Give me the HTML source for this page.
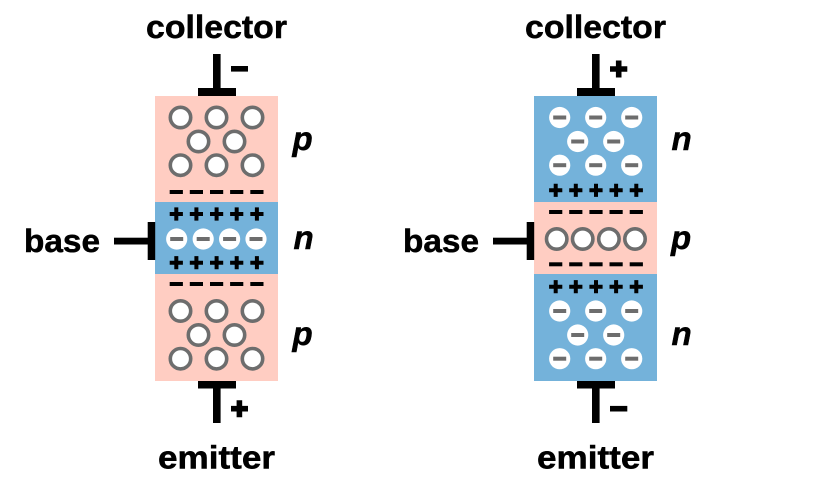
<!DOCTYPE html>
<html>
<head>
<meta charset="utf-8">
<style>
html,body{margin:0;padding:0;background:#fff;width:820px;height:480px;overflow:hidden}
svg{display:block}
text{font-family:"Liberation Sans",sans-serif;font-weight:700;fill:#000;stroke:#000}
.l{font-size:32px;stroke-width:.5px}
.i{font-size:33px;font-style:italic;stroke-width:.5px}
</style>
</head>
<body>
<svg width="820" height="480" viewBox="0 0 820 480" xmlns="http://www.w3.org/2000/svg">
<defs>
<circle id="h" r="10.2" fill="#fff" stroke="#6d6d6d" stroke-width="3.6"/>
<g id="e"><circle r="10.6" fill="#fff"/><rect x="-6.5" y="-2" width="13" height="4" fill="#6d6d6d"/></g>
<path id="a" d="M-6.600-2H-2V-6.600H2V-2H6.600V2H2V6.600H-2V2H-6.600Z"/>
<rect id="m" x="-6.6" y="-2" width="13.2" height="4"/>
<g id="ar"><use href="#a" x="0"/><use href="#a" x="20.1"/><use href="#a" x="40.3"/><use href="#a" x="60.4"/><use href="#a" x="80.6"/></g>
<g id="mr"><use href="#m" x="0"/><use href="#m" x="20.1"/><use href="#m" x="40.3"/><use href="#m" x="60.4"/><use href="#m" x="80.6"/></g>
<g id="hc"><use href="#h" x="0" y="0"/><use href="#h" x="36" y="0"/><use href="#h" x="72" y="0"/><use href="#h" x="18" y="24"/><use href="#h" x="54" y="24"/><use href="#h" x="0" y="47.7"/><use href="#h" x="36" y="47.7"/><use href="#h" x="72" y="47.7"/></g>
<g id="ec"><use href="#e" x="0" y="0"/><use href="#e" x="36" y="0"/><use href="#e" x="72" y="0"/><use href="#e" x="18" y="24"/><use href="#e" x="54" y="24"/><use href="#e" x="0" y="47.7"/><use href="#e" x="36" y="47.7"/><use href="#e" x="72" y="47.7"/></g>
<g id="t">
<rect x="213" y="54" width="7.6" height="36"/><rect x="198" y="88" width="38" height="8"/>
<rect x="213" y="381" width="7.6" height="42"/><rect x="198" y="381" width="38" height="7.5"/>
<rect x="114" y="237.7" width="36" height="6.8"/><rect x="147.7" y="222" width="7.5" height="38"/>
</g>
</defs>

<!-- left transistor -->
<rect x="155" y="96" width="123" height="285" fill="#ffcdc2"/>
<rect x="155" y="202" width="123" height="72" fill="#74b2da"/>
<use href="#t"/>
<rect x="231" y="66" width="17" height="5.600"/>
<path d="M236.600 400.200h5.600v5.700H248v5.600h-5.800v5.700h-5.600v-5.700H231v-5.600h5.600Z"/>
<use href="#hc" x="180.5" y="117.5"/>
<use href="#hc" x="180.5" y="311"/>
<use href="#mr" x="176.3" y="192"/>
<use href="#ar" x="176.3" y="214"/>
<use href="#e" x="176.7" y="239"/><use href="#e" x="203.2" y="239"/><use href="#e" x="229.6" y="239"/><use href="#e" x="256" y="239"/>
<use href="#ar" x="176.3" y="262.7"/>
<use href="#mr" x="176.3" y="284"/>
<text class="l" x="146" y="38" textLength="141" lengthAdjust="spacingAndGlyphs">collector</text>
<text class="l" x="158" y="468.500" textLength="117" lengthAdjust="spacingAndGlyphs">emitter</text>
<text class="l" x="24" y="252" textLength="76" lengthAdjust="spacingAndGlyphs">base</text>
<text class="i" x="292.500" y="150">p</text>
<text class="i" x="293.500" y="249">n</text>
<text class="i" x="292.500" y="345">p</text>

<!-- right transistor -->
<rect x="534" y="96" width="123" height="285" fill="#74b2da"/>
<rect x="534" y="202" width="123" height="72" fill="#ffcdc2"/>
<use href="#t" x="379"/>
<path d="M615.900 60.500h5.600v5.700h5.800v5.600h-5.800v5.700h-5.600v-5.700H610v-5.600h5.900Z"/>
<rect x="610" y="405.900" width="17.300" height="5.600"/>
<use href="#ec" x="559.7" y="117.5"/>
<use href="#ec" x="559.7" y="311"/>
<use href="#ar" x="555.7" y="190.300"/>
<use href="#mr" x="555.7" y="212"/>
<use href="#h" x="556.7" y="239"/><use href="#h" x="582.700" y="239"/><use href="#h" x="608.900" y="239"/><use href="#h" x="635" y="239"/>
<use href="#mr" x="555.7" y="264.300"/>
<use href="#ar" x="555.7" y="286.700"/>
<text class="l" x="525" y="38" textLength="141" lengthAdjust="spacingAndGlyphs">collector</text>
<text class="l" x="537" y="468.500" textLength="117" lengthAdjust="spacingAndGlyphs">emitter</text>
<text class="l" x="403" y="252" textLength="76" lengthAdjust="spacingAndGlyphs">base</text>
<text class="i" x="671.500" y="150">n</text>
<text class="i" x="671" y="249">p</text>
<text class="i" x="671.500" y="345">n</text>
</svg>
</body>
</html>
